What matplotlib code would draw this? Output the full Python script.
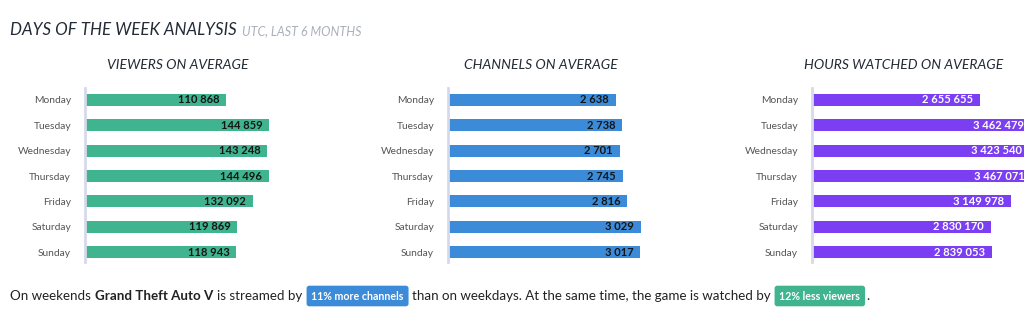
import matplotlib.pyplot as plt

plt.rcParams["font.family"] = ["Lato", "DejaVu Sans"]

days = ["Monday", "Tuesday", "Wednesday", "Thursday", "Friday", "Saturday", "Sunday"]
viewers = [110868, 144859, 143248, 144496, 132092, 119869, 118943]
channels = [2638, 2738, 2701, 2745, 2816, 3029, 3017]
hours = [2655655, 3462479, 3423540, 3467071, 3149978, 2830170, 2839053]

W, H = 1024, 326
fig = plt.figure(figsize=(W / 100, H / 100), dpi=100)
fig.patch.set_facecolor("white")


def fmt(v):
    return f"{v:,}".replace(",", " ")


# (values, title, colour, value text colour, left px, px per unit, title centre px)
panels = [
    (viewers, "VIEWERS ON AVERAGE", "#40b48f", "#151515", 85, 141 / 110868, 178),
    (channels, "CHANNELS ON AVERAGE", "#3b8bd8", "#151515", 448, 168 / 2638, 541),
    (hours, "HOURS WATCHED ON AVERAGE", "#7b3ef3", "white", 812, 168 / 2655655, 904),
]

ax_top, ax_bot = 88, 262
for vals, title, col, tcol, left, scale, cx in panels:
    xmax = max(vals)
    width_px = xmax * scale
    ax = fig.add_axes([left / W, 1 - ax_bot / H, width_px / W, (ax_bot - ax_top) / H])
    ax.barh(range(len(days)), vals, height=0.47, color=col)
    ax.set_xlim(0, xmax)
    ax.set_ylim(6.39, -0.47)
    ax.set_yticks(range(len(days)))
    ax.set_yticklabels(days, fontsize=7.4, color="#555555")
    ax.tick_params(axis="y", length=0, pad=10)
    ax.set_xticks([])
    for s in ["top", "right", "bottom"]:
        ax.spines[s].set_visible(False)
    ax.spines["left"].set_color("#d6d9ec")
    ax.spines["left"].set_linewidth(2)
    for i, v in enumerate(vals):
        ax.annotate(fmt(v), (v, i), xytext=(-5, 0), textcoords="offset points",
                    ha="right", va="center", fontsize=8, fontweight="bold",
                    color=tcol, annotation_clip=False)
    fig.text(cx / W, 1 - 65 / H, title, ha="center", va="center",
             fontsize=10, color="#222a33", fontstyle="italic")

# heading
t = fig.text(10 / W, 1 - 30 / H, "DAYS OF THE WEEK ANALYSIS", ha="left", va="center",
             fontsize=12.2, color="#222b36", fontstyle="italic")
fig.canvas.draw()
r = fig.canvas.get_renderer()
bb = t.get_window_extent(r)
fig.text((bb.x1 + 5) / W, 1 - 31 / H, "UTC, LAST 6 MONTHS", ha="left", va="center",
         fontsize=9, color="#aab1bb", fontstyle="italic")

# summary sentence
pieces = [
    ("On weekends", "normal", None),
    ("Grand Theft Auto V", "bold", None),
    ("is streamed by", "normal", None),
    ("11% more channels", "bold", "#3b8bd8"),
    ("than on weekdays. At the same time, the game is watched by", "normal", None),
    ("12% less viewers", "bold", "#40b48f"),
    (".", "normal", None),
]
x = 10
y = 1 - 296 / H
for i, (txt, weight, badge) in enumerate(pieces):
    if badge:
        x += 5
        tt = fig.text(x / W, y, txt, ha="left", va="center", fontsize=7.7,
                      fontweight="bold", color="white",
                      bbox=dict(boxstyle="round,pad=0.45,rounding_size=0.25",
                                fc=badge, ec="none"))
    else:
        tt = fig.text(x / W, y, txt, ha="left", va="center", fontsize=9.6,
                      fontweight=weight, color="#222222")
    fig.canvas.draw()
    e = tt.get_window_extent(r)
    x = e.x1 + (8 if badge else 4)
    if i + 1 < len(pieces) and pieces[i + 1][0] == ".":
        x -= 2

fig.savefig("out.png", dpi=100, facecolor="white")
